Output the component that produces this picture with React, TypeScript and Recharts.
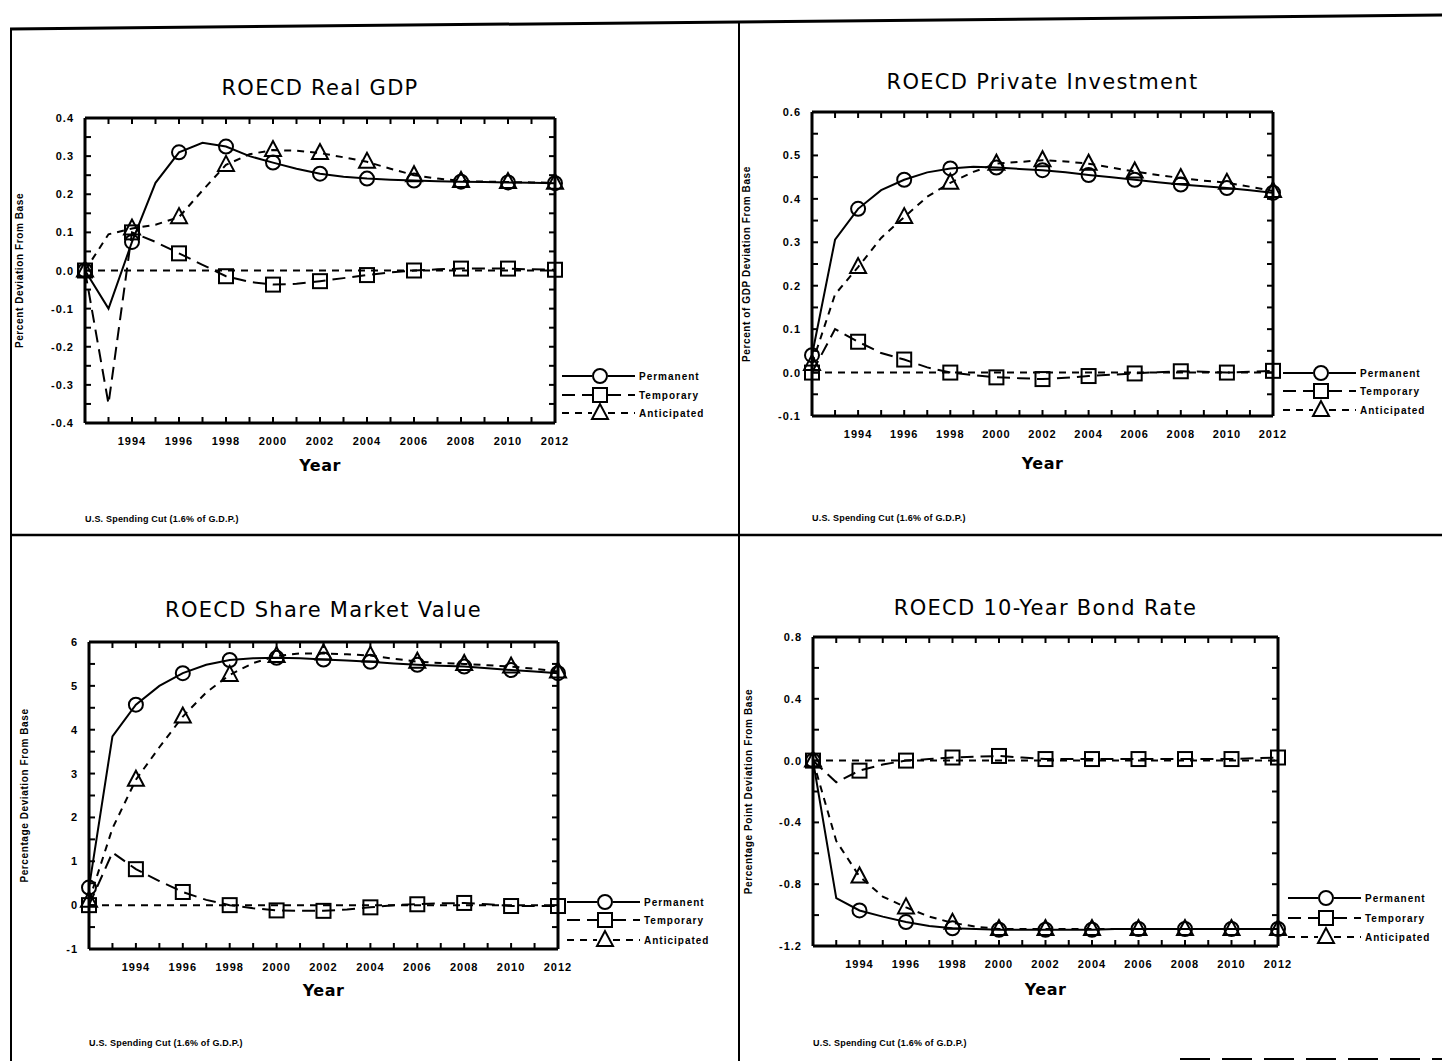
import React from "react";
import { LineChart, Line, XAxis, YAxis, ReferenceLine } from "recharts";

// years on the x axis (annual data, markers every second year)
const YEARS = [
  1992, 1993, 1994, 1995, 1996, 1997, 1998, 1999, 2000, 2001, 2002, 2003, 2004, 2005, 2006, 2007, 2008,
  2009, 2010, 2011, 2012,
];
const YEAR_LABELS = [1994, 1996, 1998, 2000, 2002, 2004, 2006, 2008, 2010, 2012];
const SERIES = ["Permanent", "Temporary", "Anticipated"];

// ROECD Real GDP
const gdpPermanent = [0.0, -0.1, 0.075, 0.23, 0.31, 0.335, 0.325, 0.3, 0.283, 0.267, 0.254, 0.246, 0.241, 0.238, 0.236, 0.234, 0.233, 0.232, 0.231, 0.23, 0.229];
const gdpTemporary = [0.0, -0.35, 0.1, 0.075, 0.045, 0.015, -0.015, -0.03, -0.037, -0.035, -0.028, -0.02, -0.012, -0.005, 0.0, 0.003, 0.005, 0.005, 0.005, 0.003, 0.002];
const gdpAnticipated = [0.0, 0.095, 0.11, 0.12, 0.14, 0.21, 0.277, 0.305, 0.316, 0.314, 0.308, 0.297, 0.285, 0.267, 0.25, 0.241, 0.235, 0.233, 0.232, 0.231, 0.23];
const gdpTicks = [-0.4, -0.3, -0.2, -0.1, 0.0, 0.1, 0.2, 0.3, 0.4];

// ROECD Private Investment
const invPermanent = [0.04, 0.306, 0.377, 0.42, 0.444, 0.461, 0.47, 0.474, 0.472, 0.469, 0.466, 0.461, 0.455, 0.45, 0.444, 0.438, 0.433, 0.429, 0.425, 0.42, 0.414];
const invTemporary = [0.0, 0.1, 0.071, 0.045, 0.03, 0.012, 0.0, -0.006, -0.011, -0.013, -0.015, -0.012, -0.008, -0.005, -0.002, 0.001, 0.003, 0.002, 0.0, 0.002, 0.004];
const invAnticipated = [0.02, 0.18, 0.243, 0.31, 0.358, 0.405, 0.437, 0.462, 0.481, 0.485, 0.489, 0.486, 0.481, 0.472, 0.463, 0.455, 0.448, 0.442, 0.437, 0.428, 0.418];
const invTicks = [-0.1, 0.0, 0.1, 0.2, 0.3, 0.4, 0.5, 0.6];

// ROECD Share Market Value
const shrPermanent = [0.4, 3.85, 4.57, 5.0, 5.29, 5.48, 5.59, 5.63, 5.64, 5.63, 5.6, 5.58, 5.55, 5.51, 5.48, 5.46, 5.44, 5.4, 5.36, 5.33, 5.29];
const shrTemporary = [0.0, 1.2, 0.82, 0.55, 0.3, 0.12, 0.0, -0.07, -0.12, -0.13, -0.13, -0.1, -0.05, 0.0, 0.02, 0.04, 0.05, 0.02, -0.02, -0.02, -0.02];
const shrAnticipated = [0.1, 1.75, 2.86, 3.6, 4.3, 4.85, 5.25, 5.52, 5.68, 5.74, 5.74, 5.72, 5.69, 5.62, 5.55, 5.52, 5.5, 5.47, 5.44, 5.39, 5.33];
const shrTicks = [-1, 0, 1, 2, 3, 4, 5, 6];

// ROECD 10-Year Bond Rate
const bndPermanent = [0.0, -0.89, -0.97, -1.01, -1.045, -1.07, -1.085, -1.09, -1.095, -1.095, -1.095, -1.095, -1.095, -1.09, -1.09, -1.09, -1.09, -1.09, -1.09, -1.09, -1.09];
const bndTemporary = [0.0, -0.14, -0.065, -0.025, 0.0, 0.01, 0.02, 0.025, 0.03, 0.02, 0.01, 0.01, 0.01, 0.01, 0.01, 0.01, 0.01, 0.01, 0.01, 0.015, 0.02];
const bndAnticipated = [0.0, -0.52, -0.75, -0.88, -0.95, -1.01, -1.05, -1.075, -1.09, -1.09, -1.09, -1.09, -1.09, -1.09, -1.09, -1.09, -1.09, -1.09, -1.09, -1.09, -1.09];
const bndTicks = [-1.2, -0.8, -0.4, 0.0, 0.4, 0.8];

const FOOTER = "U.S. Spending Cut (1.6% of G.D.P.)";
const TICK_FONT = "'Liberation Sans', Arial, sans-serif";

const DASH: Record<string, string | undefined> = {
  Permanent: undefined,
  Temporary: "13 7",
  Anticipated: "7 6",
};
const SHAPE: Record<string, string> = { Permanent: "circle", Temporary: "square", Anticipated: "triangle" };

function Marker({ shape, x, y }: { shape: string; x: number; y: number }) {
  const st = { fill: "none", stroke: "#000", strokeWidth: 2 };
  if (shape === "circle") return <circle cx={x} cy={y} r={7} {...st} />;
  if (shape === "square") return <rect x={x - 7} y={y - 7} width={14} height={14} {...st} />;
  return <polygon points={`${x},${y - 9} ${x - 8},${y + 6} ${x + 8},${y + 6}`} {...st} />;
}

const dotFor = (shape: string) => (props: any) => {
  const { cx, cy, payload, index } = props;
  if (cx == null || cy == null || payload.year % 2 !== 0) return <g key={`d${index}`} />;
  return (
    <g key={`d${index}`}>
      <Marker shape={shape} x={cx} y={cy} />
    </g>
  );
};

// minor ticks halfway between labelled ones
const withMinor = (major: number[]) => {
  const out: number[] = [];
  major.forEach((v, i) => {
    out.push(v);
    if (i < major.length - 1) out.push(+((v + major[i + 1]) / 2).toFixed(4));
  });
  return out;
};

type PanelProps = {
  title: string;
  yLabel: string;
  perm: number[];
  temp: number[];
  ant: number[];
  ticks: number[];
  digits: number;
  box: { left: number; top: number; width: number; height: number };
  titleY: number;
  yearY: number;
  footerY: number;
  yLabelX: number;
  legend: { x: number; rows: number[] };
};

const tickText = { fontSize: 11, fontWeight: 700, fontFamily: TICK_FONT, fill: "#000", letterSpacing: 1 };

function Panel(p: PanelProps) {
  const data = YEARS.map((year, i) => ({
    year,
    Permanent: p.perm[i],
    Temporary: p.temp[i],
    Anticipated: p.ant[i],
  }));
  const yMin = p.ticks[0];
  const yMax = p.ticks[p.ticks.length - 1];
  const allTicks = withMinor(p.ticks);
  const isMajor = (v: number) => p.ticks.some((t) => Math.abs(t - v) < 1e-6);
  const padL = 60;
  const padT = 10;
  const padR = 30;
  const axisY = padT + p.box.height;
  const rightX = padL + p.box.width;
  const cx = p.box.left + p.box.width / 2;
  const cy = p.box.top + p.box.height / 2;

  // inward ticks on bottom and top, label under the bottom axis
  const xTick = (props: any) => {
    const { x, payload } = props;
    const label = YEAR_LABELS.includes(payload.value) ? String(payload.value) : "";
    return (
      <g>
        <line x1={x} x2={x} y1={axisY} y2={axisY - 6} stroke="#000" strokeWidth={2} />
        <line x1={x} x2={x} y1={padT} y2={padT + 6} stroke="#000" strokeWidth={2} />
        <text x={x} y={axisY + 22} textAnchor="middle" style={tickText}>
          {label}
        </text>
      </g>
    );
  };

  // inward ticks on left and right, label left of the axis
  const yTick = (props: any) => {
    const { y, payload } = props;
    const label = isMajor(payload.value) ? payload.value.toFixed(p.digits) : "";
    return (
      <g>
        <line x1={padL} x2={padL + 6} y1={y} y2={y} stroke="#000" strokeWidth={2} />
        <line x1={rightX} x2={rightX - 6} y1={y} y2={y} stroke="#000" strokeWidth={2} />
        <text x={padL - 11} y={y + 4} textAnchor="end" style={tickText}>
          {label}
        </text>
      </g>
    );
  };

  return (
    <>
      <div style={{ position: "absolute", left: p.box.left - padL, top: p.box.top - padT }}>
        <LineChart
          width={padL + p.box.width + padR}
          height={padT + p.box.height + 30}
          data={data}
          margin={{ top: padT, right: padR, bottom: 0, left: 0 }}
        >
          <XAxis
            dataKey="year"
            type="number"
            domain={[1992, 2012]}
            ticks={YEARS}
            interval={0}
            height={30}
            axisLine={{ stroke: "#000", strokeWidth: 3 }}
            tickLine={false}
            tick={xTick}
          />
          <YAxis
            type="number"
            domain={[yMin, yMax]}
            ticks={allTicks}
            interval={0}
            width={padL}
            axisLine={{ stroke: "#000", strokeWidth: 3 }}
            tickLine={false}
            tick={yTick}
          />
          {/* top and right sides of the frame */}
          <ReferenceLine y={yMax} stroke="#000" strokeWidth={3} />
          <ReferenceLine x={2012} stroke="#000" strokeWidth={3} />
          <ReferenceLine y={0} stroke="#000" strokeWidth={2} strokeDasharray="7 6" />
          {SERIES.map((name) => (
            <Line
              key={name}
              type="linear"
              dataKey={name}
              stroke="#000"
              strokeWidth={2}
              strokeDasharray={DASH[name]}
              dot={dotFor(SHAPE[name])}
              activeDot={false}
              isAnimationActive={false}
            />
          ))}
        </LineChart>
      </div>
      <svg
        width={1442}
        height={1061}
        style={{ position: "absolute", left: 0, top: 0, pointerEvents: "none" }}
      >
        <text
          x={cx}
          y={p.titleY}
          textAnchor="middle"
          style={{ fontFamily: "'DejaVu Sans', sans-serif", fontSize: 21, letterSpacing: 1.3 }}
        >
          {p.title}
        </text>
        <text
          x={cx}
          y={p.yearY}
          textAnchor="middle"
          style={{ fontFamily: "'DejaVu Sans', sans-serif", fontSize: 16, fontWeight: 700, letterSpacing: 0.5 }}
        >
          Year
        </text>
        <text
          x={p.box.left}
          y={p.footerY}
          style={{ fontFamily: TICK_FONT, fontSize: 9, fontWeight: 700, letterSpacing: 0.2 }}
        >
          {FOOTER}
        </text>
        <text
          x={p.yLabelX}
          y={cy}
          textAnchor="middle"
          dominantBaseline="middle"
          transform={`rotate(-90 ${p.yLabelX} ${cy})`}
          style={{ fontFamily: TICK_FONT, fontSize: 10, fontWeight: 700, letterSpacing: 0.6 }}
        >
          {p.yLabel}
        </text>
        {SERIES.map((name, i) => {
          const x0 = p.legend.x;
          const y = p.legend.rows[i];
          return (
            <g key={name}>
              <line x1={x0} y1={y} x2={x0 + 30} y2={y} stroke="#000" strokeWidth={2} strokeDasharray={DASH[name]} />
              <line x1={x0 + 46} y1={y} x2={x0 + 73} y2={y} stroke="#000" strokeWidth={2} strokeDasharray={DASH[name]} />
              <Marker shape={SHAPE[name]} x={x0 + 38} y={y} />
              <text
                x={x0 + 77}
                y={y + 4}
                style={{ fontFamily: TICK_FONT, fontSize: 10, fontWeight: 700, letterSpacing: 1 }}
              >
                {name}
              </text>
            </g>
          );
        })}
      </svg>
    </>
  );
}

export default function App() {
  return (
    <div
      style={{
        position: "absolute",
        left: 0,
        top: 0,
        width: 1442,
        height: 1061,
        background: "#fff",
        overflow: "hidden",
      }}
    >
      <svg width={1442} height={1061} style={{ position: "absolute", left: 0, top: 0 }}>
        <line x1={10} y1={29} x2={1442} y2={15} stroke="#000" strokeWidth={3} />
        <line x1={11} y1={29} x2={11} y2={1061} stroke="#000" strokeWidth={2} />
        <line x1={739} y1={22} x2={739} y2={1061} stroke="#000" strokeWidth={2} />
        <line x1={11} y1={535} x2={1442} y2={535} stroke="#000" strokeWidth={2.5} />
        <line x1={1180} y1={1059} x2={1442} y2={1059} stroke="#000" strokeWidth={2} strokeDasharray="30 12" />
      </svg>
      <Panel
        title="ROECD Real GDP"
        yLabel="Percent Deviation From Base"
        perm={gdpPermanent}
        temp={gdpTemporary}
        ant={gdpAnticipated}
        ticks={gdpTicks}
        digits={1}
        box={{ left: 85, top: 118, width: 470, height: 305 }}
        titleY={95}
        yearY={471}
        footerY={522}
        yLabelX={20}
        legend={{ x: 562, rows: [376, 395, 413] }}
      />
      <Panel
        title="ROECD Private Investment"
        yLabel="Percent of GDP Deviation From Base"
        perm={invPermanent}
        temp={invTemporary}
        ant={invAnticipated}
        ticks={invTicks}
        digits={1}
        box={{ left: 812, top: 112, width: 461, height: 304 }}
        titleY={89}
        yearY={469}
        footerY={521}
        yLabelX={747}
        legend={{ x: 1283, rows: [373, 391, 410] }}
      />
      <Panel
        title="ROECD Share Market Value"
        yLabel="Percentage Deviation From Base"
        perm={shrPermanent}
        temp={shrTemporary}
        ant={shrAnticipated}
        ticks={shrTicks}
        digits={0}
        box={{ left: 89, top: 642, width: 469, height: 307 }}
        titleY={617}
        yearY={996}
        footerY={1046}
        yLabelX={25}
        legend={{ x: 567, rows: [902, 920, 940] }}
      />
      <Panel
        title="ROECD 10-Year Bond Rate"
        yLabel="Percentage Point Deviation From Base"
        perm={bndPermanent}
        temp={bndTemporary}
        ant={bndAnticipated}
        ticks={bndTicks}
        digits={1}
        box={{ left: 813, top: 637, width: 465, height: 309 }}
        titleY={615}
        yearY={995}
        footerY={1046}
        yLabelX={749}
        legend={{ x: 1288, rows: [898, 918, 937] }}
      />
    </div>
  );
}
